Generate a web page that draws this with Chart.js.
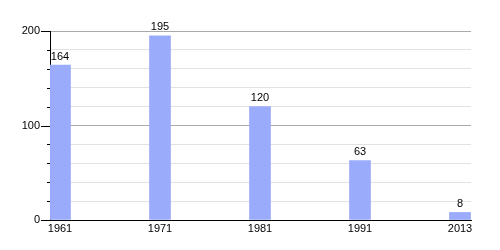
<!DOCTYPE html>
<html><head><meta charset="utf-8">
<script src="https://cdn.jsdelivr.net/npm/chart.js@4/dist/chart.umd.min.js"></script>
<style>html,body{margin:0;padding:0;background:#fff}#wrap{width:500px;height:250px}</style>
</head><body><div id="wrap"><canvas id="c" width="500" height="250"></canvas></div>
<script>
const years = ['1961', '1971', '1981', '1991', '2013'];
const values = [164, 195, 120, 63, 8];
const yTicks = [0, 100, 200];

const FONT = "'Liberation Sans', Arial, sans-serif";

const valueLabels = {
  id: 'valueLabels',
  afterDatasetsDraw(chart) {
    const ctx = chart.ctx;
    const meta = chart.getDatasetMeta(0);
    ctx.save();
    ctx.font = '11px ' + FONT;
    ctx.fillStyle = '#000';
    ctx.textAlign = 'center';
    ctx.textBaseline = 'bottom';
    meta.data.forEach((bar, i) => {
      ctx.fillText(String(values[i]), bar.x, bar.y - 3);
    });
    ctx.restore();
  }
};

const axisTicks = {
  id: 'axisTicks',
  afterDraw(chart) {
    const ctx = chart.ctx;
    const y = chart.scales.y;
    const x0 = chart.chartArea.left;
    ctx.save();
    ctx.strokeStyle = '#000';
    ctx.lineWidth = 1;
    for (let v = 0; v <= 200; v += 20) {
      const py = Math.round(y.getPixelForValue(v)) + 0.5;
      const len = yTicks.includes(v) ? 9 : 3;
      ctx.beginPath();
      ctx.moveTo(x0 - len, py);
      ctx.lineTo(x0, py);
      ctx.stroke();
    }
    ctx.restore();
  }
};

new Chart(document.getElementById('c'), {
  type: 'bar',
  data: {
    datasets: [{
      data: values.map((v, i) => ({ x: i + 0.1, y: v })),
      backgroundColor: '#9aabfb',
      borderWidth: 0,
      barThickness: 21
    }]
  },
  options: {
    responsive: false,
    animation: false,
    events: [],
    layout: { padding: { top: 31, right: 29, left: 0, bottom: 0 } },
    plugins: { legend: { display: false }, tooltip: { enabled: false } },
    scales: {
      x: {
        type: 'linear',
        offset: false,
        min: 0,
        max: 4.21,
        afterBuildTicks(scale) {
          scale.ticks = years.map((y, i) => ({ value: i + 0.1 }));
        },
        afterFit(scale) { scale.height = 30; },
        ticks: {
          callback: (v, i) => years[i],
          font: { family: FONT, size: 11 },
          color: '#000',
          padding: 2,
          maxRotation: 0,
          autoSkip: false
        },
        grid: { display: false, drawTicks: false, offset: false },
        border: { display: true, color: '#000', width: 1 }
      },
      y: {
        min: 0,
        max: 200,
        afterFit(scale) { scale.width = 50; },
        ticks: {
          stepSize: 20,
          callback: (v) => (yTicks.includes(v) ? String(v) : ''),
          font: { family: FONT, size: 11 },
          color: '#000',
          padding: 10
        },
        grid: {
          drawTicks: false,
          color: (c) => (yTicks.includes(c.tick.value) ? '#aaaaaa' : '#e2e2e2'),
          lineWidth: 1
        },
        border: { display: true, color: '#000', width: 1 }
      }
    }
  },
  plugins: [valueLabels, axisTicks]
});
</script>
</body></html>
